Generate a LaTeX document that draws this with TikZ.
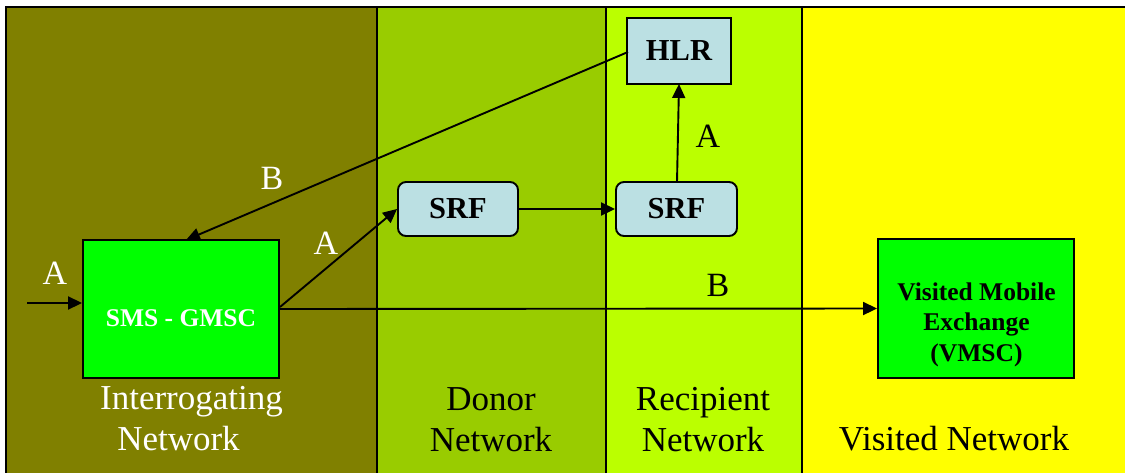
\documentclass[tikz,border=0pt]{standalone}
\usepackage{fontspec}
\setmainfont{Liberation Serif}
\usetikzlibrary{arrows.meta}
\definecolor{olivebg}{HTML}{808000}
\definecolor{donorbg}{HTML}{99CC00}
\definecolor{recipbg}{HTML}{BBFF00}
\definecolor{visitbg}{HTML}{FFFF00}
\definecolor{boxgreen}{HTML}{00FF00}
\definecolor{boxblue}{HTML}{BBE0E3}
\tikzset{
  col/.style={draw=black, line width=1.9pt},
  greenbox/.style={draw=black, line width=1.9pt, fill=boxgreen, inner sep=0pt},
  boxtext/.style={font=\fontsize{25.5}{30.5}\selectfont\bfseries, align=center, inner sep=0pt},
  bluebox/.style={draw=black, line width=1.9pt, fill=boxblue, inner sep=0pt, font=\fontsize{30.5}{34}\selectfont\bfseries},
  netlabel/.style={font=\fontsize{35}{40}\selectfont, anchor=base, inner sep=0pt},
  linklabel/.style={font=\fontsize{34}{36}\selectfont, anchor=base, inner sep=0pt},
  conn/.style={line width=1.9pt, -{Triangle[length=14pt,width=13pt]}}
}
\begin{document}
\begin{tikzpicture}[x=1pt,y=-1pt]
\useasboundingbox (0,0) rectangle (1125,472);
\fill[white] (0,0) rectangle (1125,472);
% columns
\draw[col, fill=olivebg] (6,7) rectangle (377,480);
\draw[col, fill=donorbg] (377,7) rectangle (606,480);
\draw[col, fill=recipbg] (606,7) rectangle (802,480);
\draw[col, fill=visitbg] (802,7) rectangle (1135,480);
% nodes
\node[greenbox, minimum width=196pt, minimum height=138pt] (gmsc) at (181,309) {};
\node[boxtext, text=white] (gmsct) at (181,318) {SMS - GMSC};
\node[greenbox, minimum width=196pt, minimum height=139pt] (vmsc) at (976,308.5) {};
\node[boxtext] (vmsct) at (976.5,324.5) {Visited Mobile\\Exchange\\(VMSC)};
\node[bluebox, rounded corners=8pt, minimum width=120pt, minimum height=54pt] (srf1) at (458,209) {SRF};
\node[bluebox, rounded corners=8pt, minimum width=121pt, minimum height=54pt] (srf2) at (676.5,209) {SRF};
\node[bluebox, minimum width=104pt, minimum height=66pt] (hlr) at (679,51) {HLR};
\coordinate (inA) at (27,303);
\coordinate (gmscTop) at (186,240);
\coordinate (gmscR) at (280,307);
\coordinate (srf2Top) at (677,182);
\coordinate (hlrBot) at (679,84);
\coordinate (hlrL) at (628,52);
% connectors
\draw[conn] (inA) -- (gmsc.west |- inA);
\draw[conn] (hlrL) -- (gmscTop);
\draw[conn] (gmscR) -- (srf1.west);
\draw[conn] (srf1.east) -- (srf2.west);
\draw[conn] (srf2Top) -- (hlrBot);
\draw[conn] (gmsc.east) -- (vmsc.west);
% link labels
\node[linklabel, text=white] (lA1) at (55,284) {A};
\node[linklabel, text=white] (lB1) at (272,189) {B};
\node[linklabel, text=white] (lA2) at (326,254) {A};
\node[linklabel] (lA3) at (708,147) {A};
\node[linklabel] (lB2) at (718,296) {B};
% network labels
\node[netlabel, text=white] (int1) at (191.5,409) {Interrogating};
\node[netlabel, text=white] (int2) at (178.5,450) {Network};
\node[netlabel] (don1) at (491,410) {Donor};
\node[netlabel] (don2) at (491,451) {Network};
\node[netlabel] (rec1) at (703,410) {Recipient};
\node[netlabel] (rec2) at (703,451) {Network};
\node[netlabel] (vis1) at (954,450) {Visited Network};
\end{tikzpicture}
\end{document}
